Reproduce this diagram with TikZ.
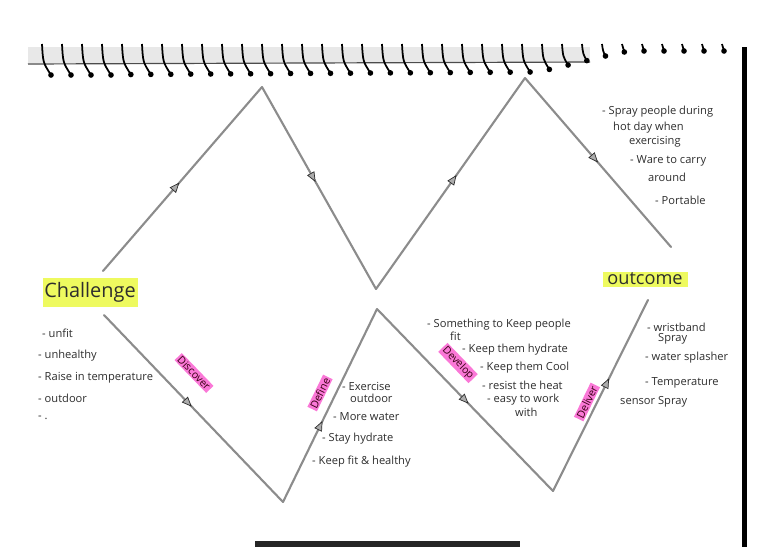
\documentclass[tikz,border=0pt]{standalone}
\usepackage{fontspec}
\setmainfont{Open Sans}
\usetikzlibrary{arrows.meta,decorations.markings}

\definecolor{linegray}{RGB}{140,140,140}
\definecolor{hlyellow}{RGB}{238,250,95}
\definecolor{hlpink}{RGB}{250,120,215}
\definecolor{inkgray}{RGB}{45,45,45}

% one wire of the spiral binding: x of the top, y of the ring end
\newcommand{\coil}[2]{\draw[coil] (#1,44) .. controls (#1+1,{#2-0.4*(#2-44)}) .. ({#1+9*(#2-44)/31},#2);
  \fill ({#1+9*(#2-44)/31},#2) circle (2.4pt);}

\tikzset{
  coil/.style={line width=1.5pt,color=black},
  zigline/.style={line width=1.8pt,color=linegray,line cap=round,line join=round},
  midarrow/.style={postaction={decorate,decoration={markings,
    mark=at position #1 with {\arrow{Triangle[length=8.5pt,width=7pt,fill=gray!65,color=gray!35!black,line width=0.6pt]}}}}},
  note/.style={anchor=west,inner sep=0pt,text=inkgray,font=\fontsize{9.5}{10}\selectfont},
  stage/.style={fill=hlpink,text=black!70!purple,inner xsep=1.5pt,inner ysep=1pt,font=\fontsize{9}{9.5}\selectfont}
}

\begin{document}
\begin{tikzpicture}[x=0.03cm,y=-0.03cm]
\useasboundingbox (0,0) rectangle (774,547);

% binding
\fill[gray!18] (28,47) rectangle (590,63);
\draw[gray!60!black,line width=1pt] (28,64) -- (590,62);
\coil{42}{75} \coil{62}{75} \coil{82}{75} \coil{102}{75} \coil{122}{74.5} \coil{142}{74.4} \coil{162}{74.3}
\coil{182}{74.1} \coil{202}{74} \coil{222}{73.9} \coil{242}{73.8} \coil{262}{73.7} \coil{282}{73.5}
\coil{302}{73.4} \coil{322}{73.3} \coil{342}{73.2} \coil{362}{73} \coil{382}{72.9} \coil{402}{72.8}
\coil{422}{72.7} \coil{442}{72.6} \coil{462}{72.4} \coil{482}{72.3} \coil{502}{72.2} \coil{522}{72}
\coil{542}{69.4} \coil{562}{65} \coil{582}{60.6} \coil{602}{56} \coil{622}{52}
\coil{642}{51} \coil{662}{51} \coil{682}{51} \coil{702}{51} \coil{722}{51}
\fill[black] (742,47) rectangle (747,547);
\fill[black!85] (255,541) rectangle (520,547);

% top zigzag
\coordinate (t0) at (103,271);
\coordinate (t1) at (262,87);
\coordinate (t2) at (376,289);
\coordinate (t3) at (525,78);
\coordinate (t4) at (671,247);
\draw[zigline,midarrow=0.48] (t0) -- (t1);
\draw[zigline,midarrow=0.47] (t1) -- (t2);
\draw[zigline,midarrow=0.54] (t2) -- (t3);
\draw[zigline,midarrow=0.5] (t3) -- (t4);

% bottom zigzag
\coordinate (b0) at (104,315);
\coordinate (b1) at (283,502);
\coordinate (b2) at (377,309);
\coordinate (b3) at (553,491);
\coordinate (b4) at (648,300);
\draw[zigline,midarrow=0.49] (b0) -- (b1);
\draw[zigline,midarrow=0.42] (b1) -- (b2);
\draw[zigline,midarrow=0.52] (b2) -- (b3);
\draw[zigline,midarrow=0.59] (b3) -- (b4);

% stage labels
\node[stage,rotate=-46] (discover) at (194,373) {Discover};
\node[stage,rotate=64] (define) at (320,393) {Define};
\node[stage,rotate=-46] (develop) at (458,363) {Develop};
\node[stage,rotate=64] (deliver) at (587,402) {Deliver};

% challenge
\fill[hlyellow] (43,278) rectangle (138,307);
\node[text=inkgray,font=\fontsize{17}{19}\selectfont] (challenge) at (90,292) {Challenge};
\node[note] (unfit) at (42,333) {- unfit};
\node[note] (unhealthy) at (38,356) {- unhealthy};
\node[note] (raise) at (38,378) {- Raise in temperature};
\node[note] (outdoor) at (38,398) {- outdoor};
\node[note] (dot) at (38,418) {- .};

% define
\node[note] (exercise) at (342,386) {- Exercise};
\node[note] (exercise2) at (350,398) {outdoor};
\node[note] (water) at (333,417) {- More water};
\node[note] (hydrate) at (322,439) {- Stay hydrate};
\node[note] (keepfit) at (312,462) {- Keep fit \& healthy};

% develop
\node[note] (something) at (427,325) {- Something to Keep people};
\node[note] (something2) at (450,336) {fit};
\node[note] (keephyd) at (462,350) {- Keep them hydrate};
\node[note] (keepcool) at (480,368) {- Keep them Cool};
\node[note] (resist) at (482,385) {- resist the heat};
\node[note] (easy) at (487,400) {- easy to work};
\node[note] (easy2) at (515,412) {with};

% outcome
\fill[hlyellow] (603,272) rectangle (688,287);
\node[text=inkgray,font=\fontsize{15.5}{17}\selectfont] (outcome) at (645,279) {outcome};
\node[note] (wrist) at (647,327) {- wristband};
\node[note] (wrist2) at (658,339) {Spray};
\node[note] (splash) at (645,358) {- water splasher};
\node[note] (temp) at (645,383) {- Temperature};
\node[note] (temp2) at (620,402) {sensor Spray};

% top right notes
\node[note] (spray) at (602,112) {- Spray people during};
\node[note] (spray2) at (613,128) {hot day when};
\node[note] (spray3) at (629,142) {exercising};
\node[note] (ware) at (630,161) {- Ware to carry};
\node[note] (ware2) at (648,177) {around};
\node[note] (portable) at (655,200) {- Portable};

\end{tikzpicture}
\end{document}
